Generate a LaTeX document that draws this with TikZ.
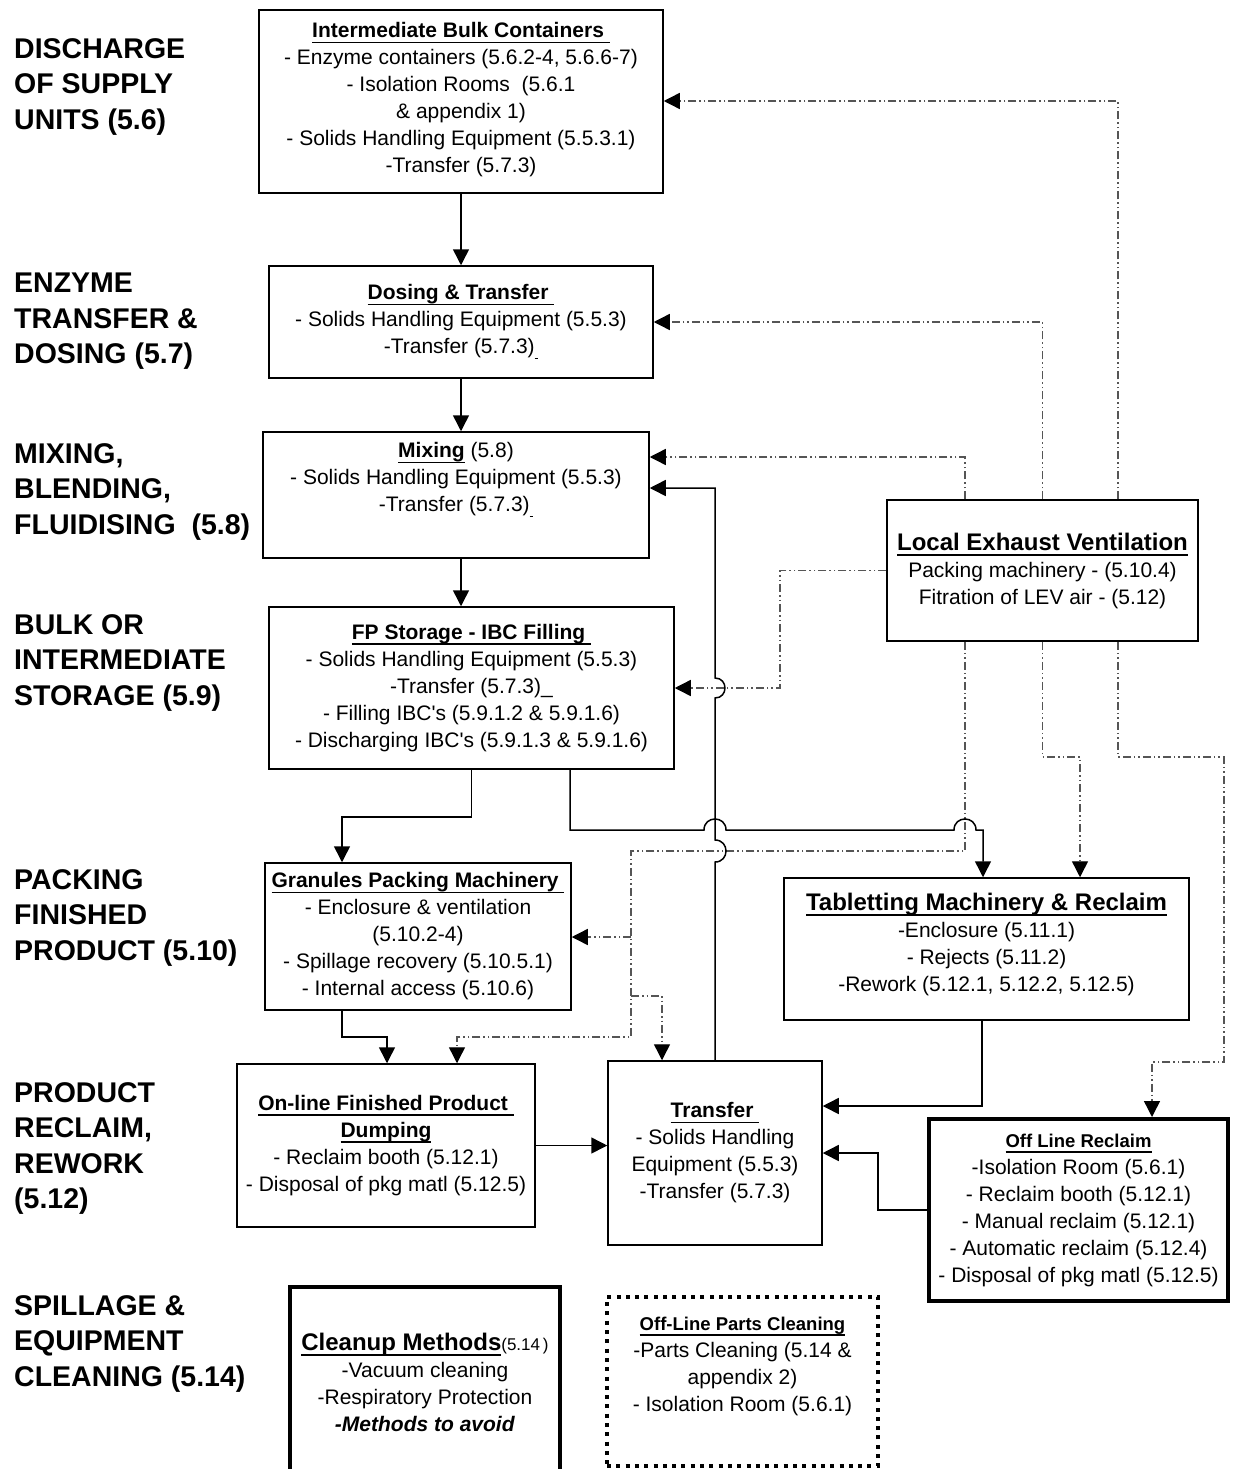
\documentclass[tikz,border=0pt]{standalone}
\usepackage{fontspec}
\setmainfont{Liberation Sans}
\usetikzlibrary{arrows.meta}
\definecolor{levgray}{RGB}{85,85,85}
\newsavebox\ulbox
\newcommand\hul[1]{\sbox\ulbox{#1}\rlap{\rule[-5.5pt]{\wd\ulbox}{1.6pt}}\usebox\ulbox}
\newcommand\hulb[1]{\sbox\ulbox{#1}\rlap{\rule[-6pt]{\wd\ulbox}{2.2pt}}\usebox\ulbox}
\newcommand\bigtitle{\fontsize{24}{27}\selectfont\bfseries}
\newcommand\smalltitle{\fontsize{18.5}{27}\selectfont\bfseries}
\tikzset{
  box/.style={draw=black, line width=1.5pt, rectangle, inner sep=0pt, align=center,
              font=\fontsize{21}{27}\selectfont},
  boldbox/.style={box, line width=4pt},
  dotbox/.style={box, line width=4pt, dash pattern=on 4pt off 5.3pt},
  flow/.style={draw=black, line width=1.5pt, -{Triangle[length=16pt,width=16pt]}},
  levline/.style={draw=levgray, line width=1.4pt,
     dash pattern=on 8pt off 3pt on 1.5pt off 3pt on 1.5pt off 3pt,
     -{Triangle[length=16pt,width=16pt,color=black,fill=black]}},
  sect/.style={anchor=north west, inner sep=0pt, align=left,
     font=\fontsize{28.5}{35.5}\selectfont\bfseries},
}
\begin{document}
\begin{tikzpicture}[x=1pt, y=-1pt]
\useasboundingbox (0,0) rectangle (1232,1469);
\fill[white] (0,0) rectangle (1232,1469);

% section labels
\node[sect] (s1) at (14,38) {DISCHARGE\\OF SUPPLY\\UNITS (5.6)};
\node[sect] (s2) at (14,273) {ENZYME\\TRANSFER \&\\DOSING (5.7)};
\node[sect] (s3) at (14,443) {MIXING,\\BLENDING,\\FLUIDISING~ (5.8)};
\node[sect] (s4) at (14,614) {BULK OR\\INTERMEDIATE\\STORAGE (5.9)};
\node[sect] (s5) at (14,869) {PACKING\\FINISHED\\PRODUCT (5.10)};
\node[sect] (s6) at (14,1082) {PRODUCT\\RECLAIM,\\REWORK\\(5.12)};
\node[sect] (s7) at (14,1295) {SPILLAGE \&\\EQUIPMENT\\CLEANING (5.14)};

% boxes
\node[box, minimum width=404pt, minimum height=183pt] (ibc) at (461,101.5)
 {\hul{\textbf{Intermediate  Bulk Containers\ }}\\
  - Enzyme containers (5.6.2-4, 5.6.6-7)\\
  - Isolation Rooms~ (5.6.1\\
  \& appendix 1)\\
  - Solids Handling Equipment (5.5.3.1)\\
  -Transfer (5.7.3)\\[-19pt]\mbox{}};

\node[box, minimum width=384pt, minimum height=112pt] (dos) at (461,322)
 {\hul{\textbf{Dosing \& Transfer\ }}\\
  - Solids Handling Equipment (5.5.3)\\
  -Transfer (5.7.3)\hul{\,}};

\node[box, minimum width=386pt, minimum height=126pt] (mix) at (456,495)
 {\hul{\textbf{Mixing}} (5.8)\\
  - Solids Handling Equipment (5.5.3)\\
  -Transfer (5.7.3)\hul{\,}\\[9pt]\mbox{}};

\node[box, minimum width=405pt, minimum height=162pt] (fps) at (471.5,688)
 {\hul{\textbf{FP Storage - IBC Filling\ }}\\
  - Solids Handling Equipment (5.5.3)\\
  -Transfer (5.7.3)\_\\
  - Filling IBC\textquotesingle s (5.9.1.2 \& 5.9.1.6)\\
  - Discharging IBC\textquotesingle s (5.9.1.3 \& 5.9.1.6)};

\node[box, minimum width=306pt, minimum height=147pt] (gpm) at (418,936.5)
 {\hul{\textbf{Granules Packing Machinery\ }}\\
  - Enclosure \& ventilation\\
  (5.10.2-4)\\
  - Spillage recovery (5.10.5.1)\\
  - Internal access (5.10.6)};

\node[box, minimum width=298pt, minimum height=163pt] (dmp) at (386,1145.5)
 {\hul{\textbf{On-line Finished Product\ }}\\
  \hul{\textbf{Dumping}}\\
  - Reclaim booth (5.12.1)\\
  - Disposal of pkg matl (5.12.5)};

\node[box, minimum width=214pt, minimum height=184pt] (tr) at (715,1153)
 {\hul{\textbf{Transfer\ }}\\
  - Solids Handling\\
  Equipment (5.5.3)\\
  -Transfer (5.7.3)};

\node[box, minimum width=405pt, minimum height=142pt] (tab) at (986.5,949)
 {\hulb{\bigtitle Tabletting Machinery \& Reclaim}\\
  -Enclosure (5.11.1)\\
  - Rejects (5.11.2)\\
  -Rework (5.12.1, 5.12.2, 5.12.5)\\[-13pt]\mbox{}};

\node[box, minimum width=311pt, minimum height=141pt] (lev) at (1042.5,570.5)
 {\hulb{\bigtitle Local Exhaust Ventilation}\\
  Packing machinery - (5.10.4)\\
  Fitration of LEV air - (5.12)};

\node[boldbox, minimum width=299pt, minimum height=182pt] (olr) at (1078.5,1210)
 {\hul{\smalltitle Off Line Reclaim}\\
  -Isolation Room (5.6.1)\\
  - Reclaim booth (5.12.1)\\
  - Manual reclaim (5.12.1)\\
  - Automatic reclaim (5.12.4)\\
  - Disposal of pkg matl (5.12.5)};

\node[boldbox, minimum width=270pt, minimum height=190pt] (cln) at (425,1382)
 {\hulb{\bigtitle Cleanup Methods}{\fontsize{17}{27}\selectfont(5.14\,)}\\
  -Vacuum cleaning\\
  -Respiratory Protection\\
  \textbf{\textit{-Methods to avoid}}};

\node[dotbox, minimum width=271pt, minimum height=169pt] (pcl) at (742.5,1381.5)
 {\hul{\smalltitle Off-Line Parts Cleaning}\\
  -Parts Cleaning (5.14 \&\\
  appendix 2)\\
  - Isolation Room (5.6.1)\\[8pt]\mbox{}};

% LEV (dash-dot) connectors
\coordinate (b1) at (631,937);
\coordinate (b2) at (631,996);
\draw[levline] (lev.north -| 1118,0) -- (1118,101) -- (ibc.east |- 0,101);
\draw[levline] (lev.north) -- (1042.5,322) -- (dos.east |- 0,322);
\draw[levline] (lev.north -| 965,0) -- (965,457) -- (mix.east |- 0,457);
\draw[levline] (lev.west) -- (780,570.5) -- (780,688) -- (fps.east |- 0,688);
\draw[levline] (lev.south -| 965,0) -- (965,851) -- (631,851) -- (631,1037) -- (457,1037) -- (dmp.north -| 457,0);
\draw[levline] (b1) -- (gpm.east |- b1);
\draw[levline] (b2) -- (662,996) -- (tr.north -| 662,0);
\draw[levline] (lev.south) -- (1042.5,757) -- (1080,757) -- (tab.north -| 1080,0);
\draw[levline] (lev.south -| 1118,0) -- (1118,757) -- (1224,757) -- (1224,1062) -- (1152,1062) -- (olr.north -| 1152,0);

% solid connectors
\draw[flow] (ibc.south) -- (dos.north);
\draw[flow] (dos.south) -- (dos.south |- mix.north);
\draw[flow] (mix.south -| dos.south) -- (dos.south |- fps.north);
\draw[flow] (fps.south) -- (471.5,817) -- (342,817) -- (gpm.north -| 342,0);
\draw[flow] (fps.south -| 570,0) -- (570,830) -- (704,830)
   .. controls (704,815.3) and (726,815.3) .. (726,830) -- (954,830)
   .. controls (954,815.3) and (976,815.3) .. (976,830) -- (983,830) -- (tab.north -| 983,0);
\draw[flow] (gpm.south -| 342,0) -- (342,1037) -- (387,1037) -- (dmp.north -| 387,0);
\draw[flow] (dmp.east) -- (dmp.east -| tr.west);
\draw[flow] (tr.north) -- (715,862) .. controls (729.7,862) and (729.7,840) .. (715,840)
   -- (715,698) .. controls (728.3,698) and (728.3,678) .. (715,678)
   -- (715,488) -- (mix.east |- 0,488);
\draw[flow] (tab.south -| 982,0) -- (982,1106) -- (tr.east |- 0,1106);
\draw[flow] (olr.west) -- (878,1210) -- (878,1153) -- (tr.east |- 0,1153);
\end{tikzpicture}
\end{document}
